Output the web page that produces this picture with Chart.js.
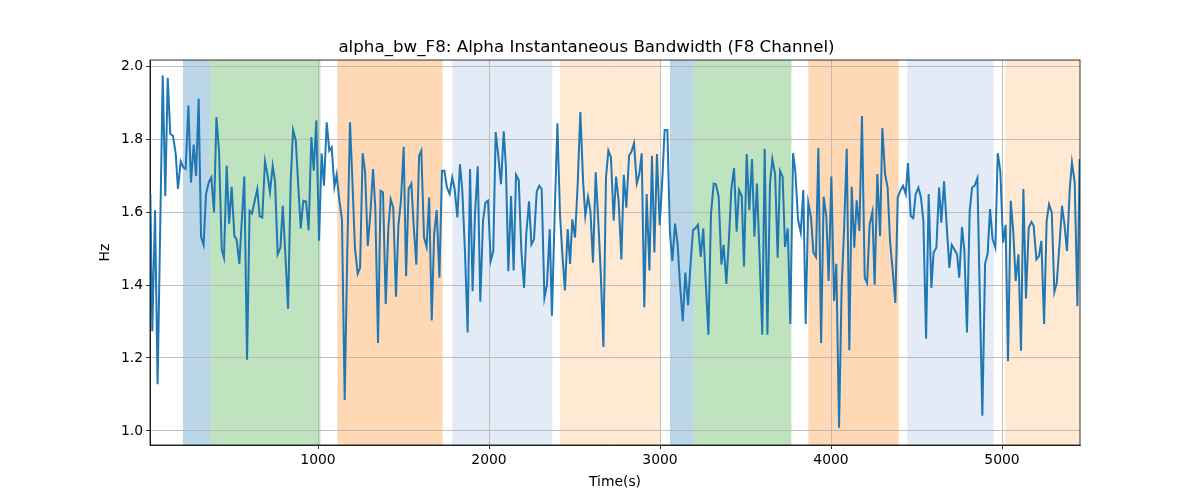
<!DOCTYPE html>
<html>
<head>
<meta charset="utf-8">
<script src="https://cdn.jsdelivr.net/npm/chart.js@4"></script>
<style>
  body { margin: 0; background: #fff; }
  #wrap { width: 1200px; height: 500px; }
</style>
</head>
<body>
<div id="wrap"><canvas id="grafica"></canvas></div>
<script>
// datos
const time_s = [19.5,31,47,62,92,107,121,136,152,168,181,197,213,226,242,257,273,287,302,316,331,345,361,376,392,406,421,437,450,466,480,495,511,524,540,569,585,600,614,630,645,659,674,690,704,719,735,749,764,780,794,809,825,840,854,870,885,899,914,
930,945,961,975,990,1006,1021,1035,1051,1066,1080,1096,1109,1125,1140,1156,1171,1187,1201,1216,1232,1246,1261,1275,1291,1306,1322,1335,1351,1366,1380,1396,1411,1425,1440,1456,1470,1485,1501,1515,1530,1546,1559,1575,1591,1604,1620,1635,1650,1665,1679,1694,1710,1725,1739,1754,1770,1785,1799,1815,1830,
1844,1860,1875,1889,1904,1918,1934,1949,1965,1979,1994,2010,2025,2039,2055,2070,2086,2099,2113,2129,2144,2158,2174,2189,2205,2218,2234,2248,2263,2279,2294,2308,2324,2339,2355,2368,2384,2400,2415,2429,2444,2460,2474,2487,2503,2519,2534,2550,2563,2579,2593,2608,2624,2639,2653,2669,2684,2698,2713,2729,
2743,2758,2774,2788,2803,2819,2832,2848,2864,2879,2893,2908,2922,2938,2953,2967,2982,2998,3014,3027,3043,3058,3072,3088,3103,3117,3133,3148,3164,3177,3193,3209,3222,3238,3253,3267,3283,3298,3314,3327,3343,3359,3372,3388,3404,3417,3433,3448,3462,3478,3491,3507,3522,3538,3552,3567,3583,3598,3612,3628,3643,
3657,3673,3688,3702,3717,3731,3747,3762,3778,3791,3807,3823,3838,3852,3867,3883,3897,3912,3926,3942,3957,3973,3986,4002,4018,4031,4047,4062,4076,4092,4107,4121,4136,4150,4166,4181,4197,4211,4226,4242,4255,4271,4287,4300,4316,4331,4345,4361,4376,4390,4405,4421,4437,4450,4466,4481,4495,4511,4526,
4540,4556,4571,4587,4600,4616,4632,4645,4661,4676,4692,4706,4721,4737,4750,4766,4780,4795,4811,4825,4840,4856,4869,4885,4901,4916,4930,4945,4961,4975,4990,5006,5021,5035,5051,5066,5080,5096,5111,5125,5140,5156,5172,5185,5201,5216,5230,5246,5261,5275,5291,5306,5320,5336,5351,5365,5380,5396,5409,5425,5441,5454];

const alpha_bw = [1.649,1.273,1.605,1.128,1.974,1.644,1.968,1.814,1.809,1.759,1.663,1.739,1.722,1.718,1.892,1.681,1.785,1.699,1.910,1.532,1.510,1.649,1.681,1.695,1.599,1.860,1.768,1.498,1.475,1.727,1.568,1.669,1.534,1.525,1.458,1.697,1.195,1.603,1.596,1.631,1.663,1.588,1.585,1.739,1.704,1.654,1.727,1.681,1.484,1.502,1.617,1.484,1.335,1.681,1.825,1.796,1.667,1.555,1.631,
1.629,1.550,1.805,1.713,1.851,1.521,1.761,1.672,1.846,1.768,1.777,1.669,1.702,1.631,1.580,1.085,1.484,1.846,1.686,1.502,1.431,1.447,1.761,1.713,1.507,1.594,1.718,1.612,1.241,1.658,1.654,1.348,1.553,1.635,1.612,1.368,1.562,1.631,1.779,1.424,1.663,1.678,1.566,1.456,1.754,1.768,1.530,1.504,1.640,1.303,1.539,1.605,1.420,1.713,1.713,1.667,1.649,1.695,1.663,1.585,1.731,
1.658,1.484,1.270,1.718,1.383,1.594,1.725,1.354,1.576,1.626,1.631,1.466,1.493,1.819,1.750,1.676,1.821,1.722,1.438,1.644,1.440,1.702,1.687,1.493,1.392,1.539,1.629,1.511,1.525,1.656,1.672,1.663,1.365,1.401,1.553,1.316,1.594,1.843,1.594,1.484,1.385,1.553,1.458,1.580,1.530,1.681,1.874,1.686,1.589,1.642,1.603,1.461,1.709,1.576,1.438,1.230,1.695,1.768,1.750,1.576,
1.697,1.631,1.470,1.702,1.612,1.754,1.764,1.788,1.678,1.704,1.761,1.339,1.649,1.440,1.754,1.489,1.759,1.564,1.695,1.825,1.825,1.544,1.466,1.568,1.511,1.401,1.301,1.434,1.345,1.447,1.550,1.557,1.565,1.477,1.555,1.411,1.264,1.594,1.678,1.676,1.642,1.456,1.510,1.403,1.534,1.663,1.720,1.546,1.660,1.644,1.451,1.759,1.605,1.745,1.532,1.678,1.466,1.264,1.773,1.264,1.676,
1.745,1.704,1.475,1.713,1.697,1.504,1.555,1.293,1.761,1.713,1.580,1.544,1.660,1.293,1.626,1.585,1.489,1.477,1.775,1.241,1.642,1.585,1.411,1.697,1.356,1.458,1.009,1.392,1.548,1.773,1.221,1.669,1.502,1.632,1.548,1.863,1.420,1.406,1.566,1.601,1.401,1.704,1.534,1.830,1.704,1.667,1.521,1.438,1.351,1.640,1.658,1.672,1.649,1.734,1.589,1.583,1.649,1.667,1.640,
1.576,1.253,1.649,1.392,1.489,1.502,1.667,1.571,1.684,1.566,1.447,1.510,1.498,1.484,1.420,1.559,1.493,1.270,1.603,1.667,1.672,1.693,1.392,1.042,1.458,1.486,1.608,1.525,1.502,1.761,1.713,1.516,1.565,1.191,1.631,1.544,1.411,1.484,1.220,1.663,1.363,1.557,1.573,1.562,1.470,1.479,1.521,1.293,1.576,1.621,1.599,1.381,1.406,1.511,1.617,1.566,1.493,1.663,1.736,1.681,1.342,1.745];

// bandas de fondo (inicio, fin, tipo)
const span_start = [210, 370, 1113, 1786, 2415, 3058, 3195, 3867, 4446, 5018];
const span_end   = [370, 1014, 1728, 2370, 3000, 3195, 3768, 4396, 4951, 5456];
const span_kind  = ["blue", "green", "orange", "lightblue", "lightorange", "blue", "green", "orange", "lightblue", "lightorange"];

const x_ticks = [1000, 2000, 3000, 4000, 5000];
const y_ticks = [1.0, 1.2, 1.4, 1.6, 1.8, 2.0];

const x_min = 17.5, x_max = 5456;
const y_min = 0.9616, y_max = 2.0164;

const span_colors = {
  blue: "rgba(31,119,180,0.3)",
  green: "rgba(44,160,44,0.3)",
  orange: "rgba(255,127,14,0.3)",
  lightblue: "rgba(174,199,232,0.35)",
  lightorange: "rgba(255,187,120,0.33)"
};

const fuente = "'DejaVu Sans', sans-serif";

/** bandas detras de la grilla */
const bandas = {
  id: "bandas",
  beforeDraw(chart) {
    const ctx = chart.ctx;
    const area = chart.chartArea;
    const xs = chart.scales.x;
    ctx.save();
    ctx.fillStyle = "#fff";
    ctx.fillRect(0, 0, chart.width, chart.height);
    for (let i = 0; i < span_start.length; i++) {
      let a = xs.getPixelForValue(span_start[i]);
      let b = xs.getPixelForValue(span_end[i]);
      a = Math.max(a, area.left);
      b = Math.min(b, area.right);
      ctx.fillStyle = span_colors[span_kind[i]];
      ctx.fillRect(a, area.top, b - a, area.bottom - area.top);
    }
    ctx.restore();
  },
  afterDraw(chart) {
    const ctx = chart.ctx;
    const area = chart.chartArea;
    ctx.save();
    ctx.strokeStyle = "#000";
    ctx.lineWidth = 0.8;
    ctx.strokeRect(area.left, area.top, area.right - area.left, area.bottom - area.top);
    ctx.restore();
  }
};

const ctx = document.getElementById("grafica").getContext("2d");
const grafica = new Chart(ctx, {
  type: "line",
  data: {
    datasets: [{
      data: time_s.map((t, i) => ({ x: t, y: alpha_bw[i] })),
      borderColor: "#1f77b4",
      borderWidth: 2,
      pointRadius: 0,
      tension: 0,
      fill: false
    }]
  },
  options: {
    responsive: true,
    maintainAspectRatio: false,
    animation: false,
    layout: { padding: { left: 93, right: 120, top: 0, bottom: 5 } },
    plugins: {
      legend: { display: false },
      tooltip: { enabled: false },
      title: {
        display: true,
        text: "alpha_bw_F8: Alpha Instantaneous Bandwidth (F8 Channel)",
        color: "#000",
        font: { family: fuente, size: 16.7, weight: "normal" },
        padding: { top: 38, bottom: 2 }
      }
    },
    scales: {
      x: {
        type: "linear",
        min: x_min,
        max: x_max,
        afterBuildTicks: (s) => { s.ticks = x_ticks.map(v => ({ value: v })); },
        afterFit: (s) => { s.height = 50; },
        ticks: {
          color: "#000",
          font: { family: fuente, size: 13.9 },
          padding: 3,
          maxRotation: 0,
          callback: (v) => String(v)
        },
        grid: { color: "#b0b0b0", lineWidth: 0.8, tickLength: 4, tickColor: "#000", tickWidth: 0.8 },
        border: { color: "#000", width: 0.8 },
        title: {
          display: true,
          text: "Time(s)",
          color: "#000",
          font: { family: fuente, size: 13.9 },
          padding: { top: 4, bottom: 4 }
        }
      },
      y: {
        min: y_min,
        max: y_max,
        afterBuildTicks: (s) => { s.ticks = y_ticks.map(v => ({ value: v })); },
        afterFit: (s) => { s.width = 57; },
        ticks: {
          color: "#000",
          font: { family: fuente, size: 13.9 },
          padding: 3,
          callback: (v) => Number(v).toFixed(1)
        },
        grid: { color: "#b0b0b0", lineWidth: 0.8, tickLength: 4, tickColor: "#000", tickWidth: 0.8 },
        border: { color: "#000", width: 0.8 },
        title: {
          display: true,
          text: "Hz",
          color: "#000",
          font: { family: fuente, size: 13.9 },
          padding: { top: 4, bottom: 4 }
        }
      }
    }
  },
  plugins: [bandas]
});
</script>
</body>
</html>
